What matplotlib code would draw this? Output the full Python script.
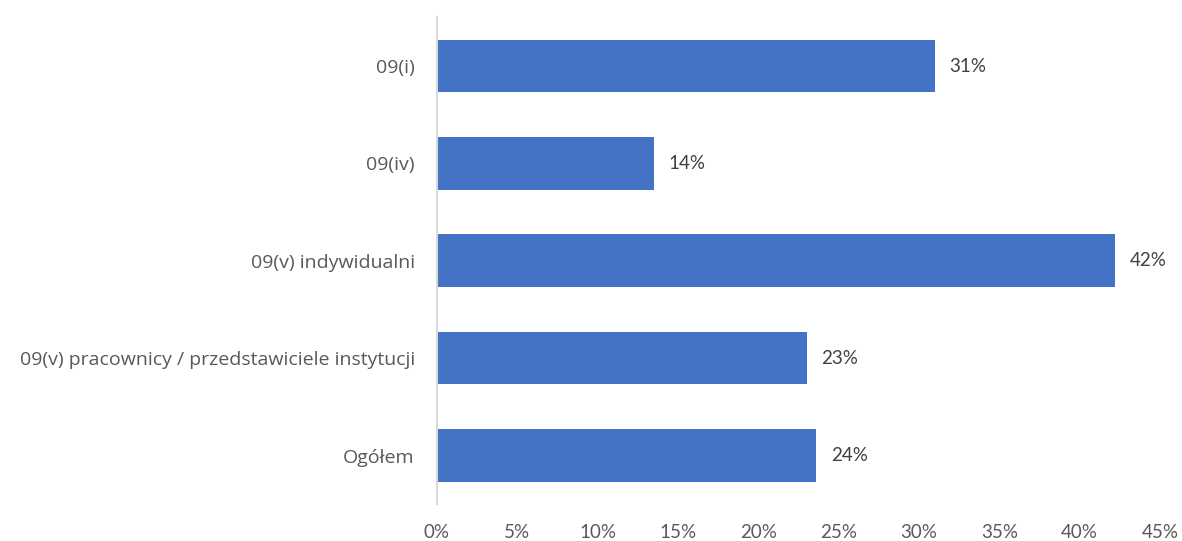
import matplotlib
matplotlib.use("Agg")
import matplotlib.pyplot as plt
from matplotlib.ticker import FuncFormatter

plt.rcParams['font.family'] = ['Lato', 'DejaVu Sans']

kategorie = ["09(i)", "09(iv)", "09(v) indywidualni",
             "09(v) pracownicy / przedstawiciele instytucji", "Ogółem"]
wartosci = [31.0, 13.5, 42.2, 23.0, 23.6]
etykiety = ["31%", "14%", "42%", "23%", "24%"]

fig = plt.figure(figsize=(11.82, 5.41), dpi=100)
ax = fig.add_axes([0.3697, 0.068, 0.6117, 0.9])

y = list(range(len(kategorie)))
ax.barh(y, wartosci, height=0.54, color="#4472C4")
for yi, v, lab in zip(y, wartosci, etykiety):
    ax.text(v + 0.9, yi, lab, va="center", ha="left", fontsize=13.5, color="#404040")

ax.set_yticks(y)
ax.set_yticklabels(kategorie, fontsize=14, color="#595959",
                   family=['Open Sans', 'DejaVu Sans'])
ax.set_ylim(len(kategorie) - 0.5, -0.5)
ax.set_xlim(0, 45)
ax.set_xticks(range(0, 46, 5))
ax.xaxis.set_major_formatter(FuncFormatter(lambda x, p: f"{int(x)}%"))
ax.tick_params(axis="x", labelsize=13.5, colors="#595959", length=0, pad=14)
ax.tick_params(axis="y", length=0, pad=16)

for s in ["top", "right", "bottom"]:
    ax.spines[s].set_visible(False)
ax.spines["left"].set_color("#D9D9D9")
ax.spines["left"].set_linewidth(1.5)

plt.savefig("out.png", dpi=100)
